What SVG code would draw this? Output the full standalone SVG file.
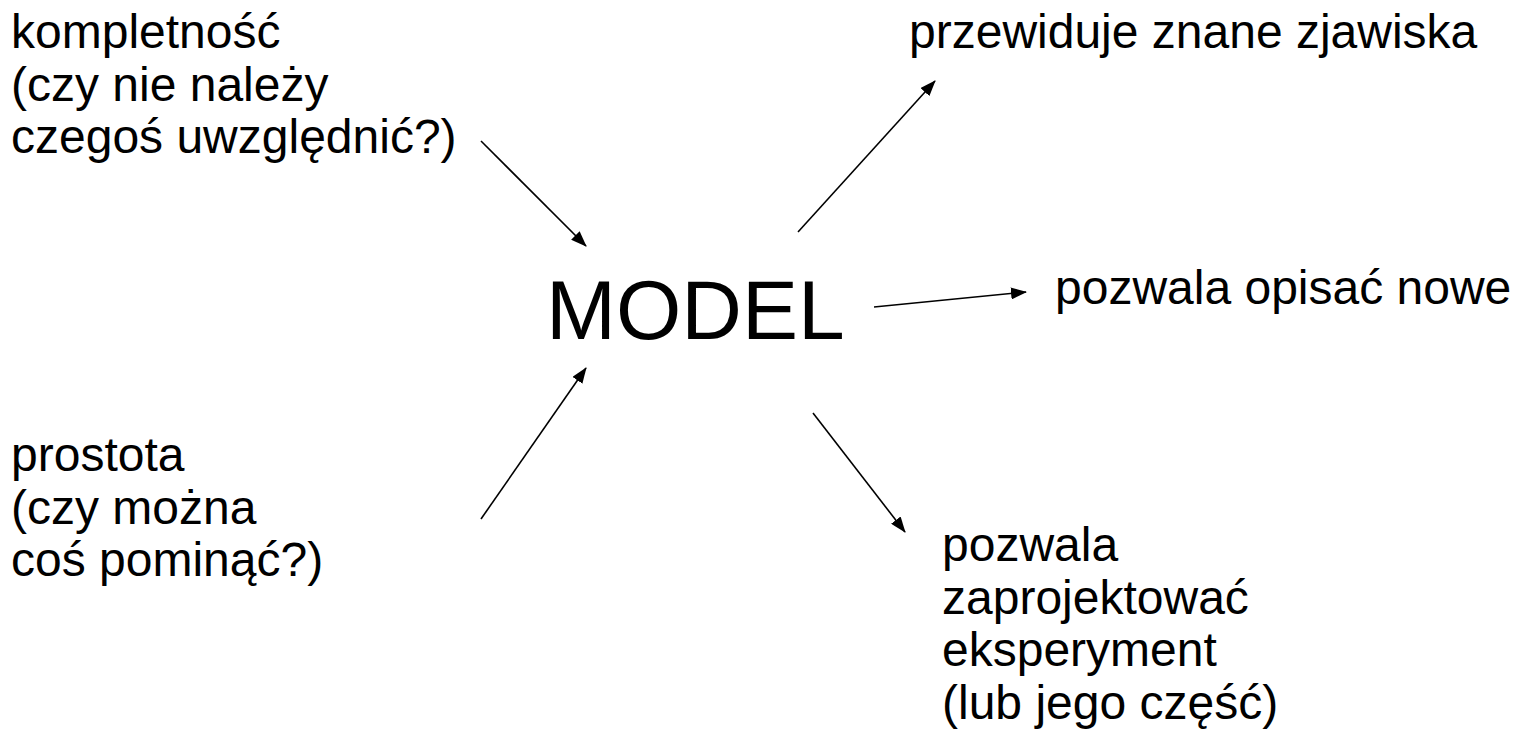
<svg xmlns="http://www.w3.org/2000/svg" width="1519" height="742" viewBox="0 0 1519 742">
<style>
.t{font-family:"Liberation Sans",Arial,sans-serif;font-size:48px;fill:#000}
.big{font-family:"Liberation Sans",Arial,sans-serif;font-size:84px;fill:#000}
.c{stroke:#000;stroke-width:1.6;fill:none}
</style>
<defs>
<marker id="ah" viewBox="0 0 16 12" refX="15" refY="6" markerWidth="16" markerHeight="12" markerUnits="userSpaceOnUse" orient="auto">
<path d="M0,0 L16,6 L0,12 z" fill="#000"/>
</marker>
</defs>
<rect width="1519" height="742" fill="#fff"/>
<g id="connectors">
<line class="c" x1="481" y1="141" x2="586" y2="246" marker-end="url(#ah)"/>
<line class="c" x1="798" y1="232" x2="935" y2="81" marker-end="url(#ah)"/>
<line class="c" x1="874" y1="307" x2="1026" y2="292" marker-end="url(#ah)"/>
<line class="c" x1="813" y1="413" x2="905" y2="532" marker-end="url(#ah)"/>
<line class="c" x1="481" y1="519" x2="586" y2="368" marker-end="url(#ah)"/>
</g>
<g id="model"><text class="big" x="546" y="339">MODEL</text></g>
<g id="kompletnosc"><text class="t" x="11" y="48">kompletność</text><text class="t" x="11" y="100.5">(czy nie należy</text><text class="t" x="11" y="153">czegoś uwzględnić?)</text></g>
<g id="przewiduje"><text class="t" x="909" y="48">przewiduje znane zjawiska</text></g>
<g id="opisac"><text class="t" x="1055" y="303.5">pozwala opisać nowe</text></g>
<g id="prostota"><text class="t" x="11" y="471">prostota</text><text class="t" x="11" y="523.5">(czy można</text><text class="t" x="11" y="576">coś pominąć?)</text></g>
<g id="eksperyment"><text class="t" x="942" y="561">pozwala</text><text class="t" x="942" y="613.5">zaprojektować</text><text class="t" x="942" y="666">eksperyment</text><text class="t" x="942" y="718.5">(lub jego część)</text></g>
</svg>
